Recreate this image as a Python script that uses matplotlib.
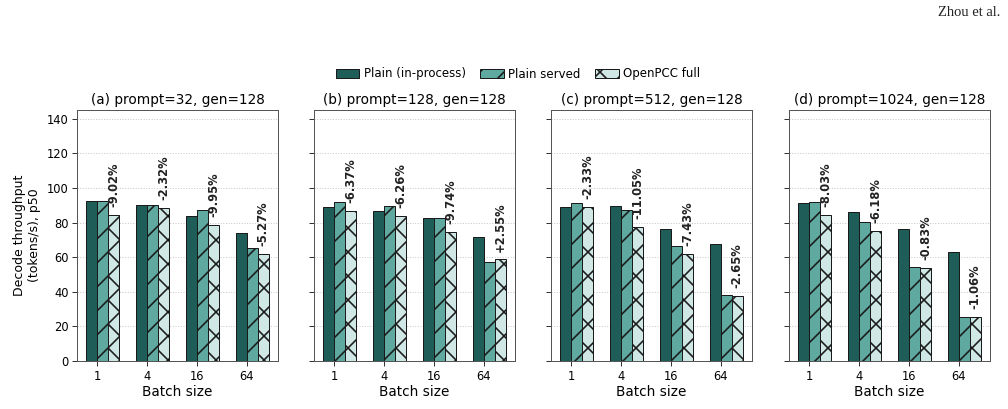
import numpy as np
import matplotlib
matplotlib.use("Agg")
import matplotlib.pyplot as plt

# ---- data ----
batch_labels = ["1", "4", "16", "64"]
titles = ["(a) prompt=32, gen=128", "(b) prompt=128, gen=128",
          "(c) prompt=512, gen=128", "(d) prompt=1024, gen=128"]
series_names = ["Plain (in-process)", "Plain served", "OpenPCC full"]

plain_inproc = [
    [92.3, 90.0, 83.8, 73.7],
    [89.0, 86.7, 82.8, 71.8],
    [89.2, 89.8, 76.4, 67.4],
    [91.3, 86.1, 76.1, 63.1],
]
plain_served = [
    [92.7, 90.3, 87.3, 65.3],
    [92.1, 89.4, 82.8, 57.3],
    [91.1, 87.5, 66.6, 38.4],
    [92.1, 80.1, 54.2, 25.5],
]
openpcc_full = [
    [84.2, 88.4, 78.6, 61.8],
    [86.5, 84.0, 74.7, 58.7],
    [89.0, 77.6, 61.8, 37.6],
    [84.4, 75.3, 53.9, 25.5],
]
pct_labels = [
    ["-9.02%", "-2.32%", "-9.95%", "-5.27%"],
    ["-6.37%", "-6.26%", "-9.74%", "+2.55%"],
    ["-2.33%", "-11.05%", "-7.43%", "-2.65%"],
    ["-8.03%", "-6.18%", "-0.83%", "-1.06%"],
]
yticks = [0, 20, 40, 60, 80, 100, 120, 140]

# ---- style ----
DPI = 72
plt.rcParams["hatch.linewidth"] = 1.6
plt.rcParams["hatch.color"] = "black"
plt.rcParams["font.family"] = ["DejaVu Sans"]

colors = ["#1f5d58", "#5fa9a1", "#d0e8e5"]
hatches = [None, "/", "x"]

fig = plt.figure(figsize=(1008 / DPI, 409 / DPI), dpi=DPI)

W, H = 1008, 409
ax_w = 201
top_px, bot_px = 110, 361
lefts = [77, 314, 551, 789]
w = 0.22
x = np.arange(len(batch_labels))

axes = []
for i in range(4):
    ax = fig.add_axes([lefts[i] / W, (H - bot_px) / H, ax_w / W, (bot_px - top_px) / H])
    axes.append(ax)
    data = [plain_inproc[i], plain_served[i], openpcc_full[i]]
    offs = [-0.5 * w, 0.5 * w, 1.5 * w]
    handles = []
    for j in range(3):
        b = ax.bar(x + offs[j], data[j], w, color=colors[j], edgecolor="#1a1a1a",
                   linewidth=1.0, hatch=hatches[j], label=series_names[j], zorder=3)
        handles.append(b)
    for k in range(len(x)):
        ax.text(x[k] + 1.5 * w, openpcc_full[i][k] + 4.5, pct_labels[i][k],
                rotation=90, ha="center", va="bottom", fontsize=11.5,
                fontweight="bold", color="#222222", zorder=4)
    ax.set_ylim(0, 145)
    ax.set_yticks(yticks)
    ax.set_xticks(x)
    ax.set_xticklabels(batch_labels)
    ax.set_xlabel("Batch size", fontsize=13.6, labelpad=3)
    ax.set_title(titles[i], fontsize=13.6, pad=6)
    ax.grid(axis="y", linestyle=":", color="#c8c8c8", linewidth=1.0, zorder=0)
    ax.set_axisbelow(True)
    ax.tick_params(axis="both", labelsize=11.5, length=5, width=1, color="#333333")
    for s in ax.spines.values():
        s.set_color("#555555")
        s.set_linewidth(1.0)
    if i == 0:
        ax.set_ylabel("Decode throughput\n(tokens/s), p50", fontsize=12.5, labelpad=6)
    else:
        ax.tick_params(axis="y", labelleft=False)

fig.legend(handles=handles, labels=series_names, loc="center",
           bbox_to_anchor=(518 / W, (H - 74) / H), ncol=3, frameon=False,
           fontsize=11.8, handlelength=2.0, handleheight=0.8, columnspacing=1.2,
           handletextpad=0.4)

fig.text(1000 / W, (H - 13) / H, "Zhou et al.", ha="right", va="center",
         fontsize=14.5, family=["Liberation Serif"], color="#222222")

fig.savefig("out.png", dpi=DPI)
